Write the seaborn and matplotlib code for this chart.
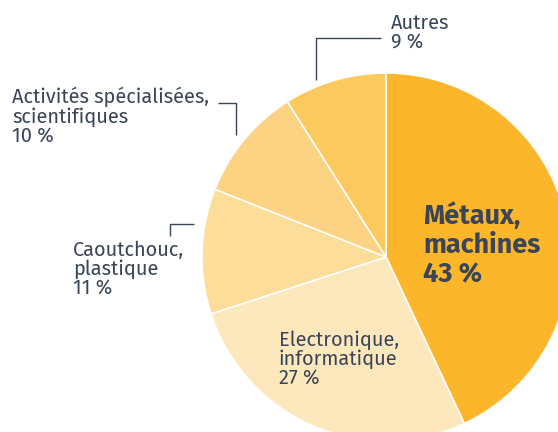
import matplotlib
matplotlib.use("Agg")
import matplotlib.pyplot as plt
import seaborn as sns

# Data
categories = ["Métaux, machines", "Electronique, informatique", "Caoutchouc, plastique",
              "Activités spécialisées, scientifiques", "Autres"]
values = [43, 27, 11, 10, 9]
label_texts = ["Métaux,\nmachines\n43 %", "Electronique,\ninformatique\n27 %",
               "Caoutchouc,\nplastique\n11 %", "Activités spécialisées,\nscientifiques\n10 %",
               "Autres\n9 %"]
colors = ["#FBB62B", "#FDE7BD", "#FCDD9A", "#FCD383", "#FBC95E"]

sns.set_theme(style="white")
plt.rcParams["font.family"] = ["Fira Sans", "DejaVu Sans"]

W, H = 558, 432
fig = plt.figure(figsize=(W / 100, H / 100), dpi=100)
ax = fig.add_axes([0, 0, 1, 1])

def Y(py):
    return H - py

ax.pie(values, colors=colors, startangle=90, counterclock=False,
       center=(386, Y(257)), radius=184, frame=True,
       wedgeprops=dict(edgecolor="white", linewidth=1.1))
ax.set_xlim(0, W)
ax.set_ylim(0, H)
ax.set_aspect("equal")
ax.axis("off")

txt = "#3A4558"
fs = 14.4
ls = 1.0
# label positions (x left, y top in pixels)
pos = [(423, 202), (279, 330), (73, 240), (12, 87), (391, 13)]
for i, (t, (px, py)) in enumerate(zip(label_texts, pos)):
    if i == 0:
        ax.text(px, Y(py), t, ha="left", va="top", color=txt, fontsize=19.5,
                fontweight="bold", linespacing=1.12)
    else:
        ax.text(px, Y(py), t, ha="left", va="top", color=txt, fontsize=fs,
                linespacing=ls)

lc = "#3A4558"
lw = 1.0
# leader lines
ax.plot([316, 316, 381], [Y(80), Y(38), Y(38)], color=lc, lw=lw, solid_capstyle="butt")
ax.plot([218, 236, 236], [Y(103), Y(103), Y(135)], color=lc, lw=lw, solid_capstyle="butt")
ax.plot([170, 170, 194], [Y(236), Y(224), Y(224)], color=lc, lw=lw, solid_capstyle="butt")

fig.savefig("out.png", dpi=100)
